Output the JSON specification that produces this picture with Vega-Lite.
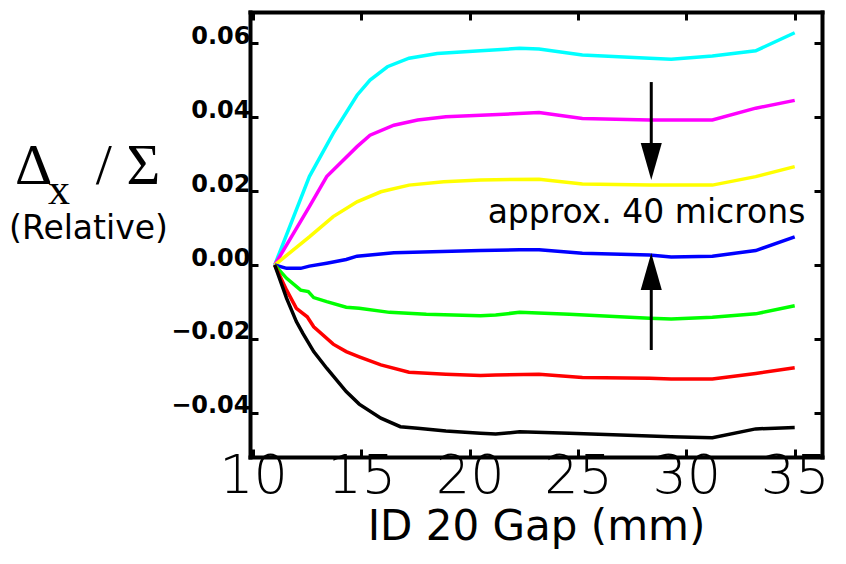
{
  "$schema": "https://vega.github.io/schema/vega-lite/v6.json",
  "width": 572,
  "height": 445,
  "autosize": "none",
  "padding": {"left": 250, "top": 12, "right": 24, "bottom": 107},
  "background": "white",
  "config": {"view": {"stroke": null}, "axis": {"grid": false}},
  "title": {
    "text": "Δ\u00a0\u00a0\u00a0/ Σ",
    "subtitle": "\u200b\u00a0\u00a0\u00a0x",
    "anchor": "start",
    "frame": "group",
    "orient": "top",
    "font": "Liberation Serif",
    "fontSize": 58,
    "fontWeight": "normal",
    "color": "black",
    "subtitleFont": "Liberation Serif",
    "subtitleFontSize": 44,
    "subtitleColor": "black",
    "subtitlePadding": -38,
    "dx": -235,
    "dy": 248,
    "offset": 0,
    "align": "left",
    "baseline": "alphabetic"
  },
  "datasets": {
    "curves": [
      {"s":"cyan","g":11,"v":0},{"s":"cyan","g":12.6,"v":0.0239},{"s":"cyan","g":13.7,"v":0.0356},{"s":"cyan","g":14.8,"v":0.0459},{"s":"cyan","g":15.4,"v":0.05},{"s":"cyan","g":16.2,"v":0.0536},{"s":"cyan","g":17.2,"v":0.0559},{"s":"cyan","g":18.5,"v":0.0572},{"s":"cyan","g":20.5,"v":0.0579},{"s":"cyan","g":22.3,"v":0.0586},{"s":"cyan","g":23.2,"v":0.0584},{"s":"cyan","g":25.2,"v":0.0568},{"s":"cyan","g":28.3,"v":0.0559},{"s":"cyan","g":29.3,"v":0.0556},{"s":"cyan","g":31.2,"v":0.0565},{"s":"cyan","g":33.2,"v":0.0579},{"s":"cyan","g":35,"v":0.0628},
      {"s":"magenta","g":11,"v":0},{"s":"magenta","g":12.6,"v":0.0158},{"s":"magenta","g":13.4,"v":0.0239},{"s":"magenta","g":14.8,"v":0.032},{"s":"magenta","g":15.4,"v":0.0351},{"s":"magenta","g":16.5,"v":0.0378},{"s":"magenta","g":17.6,"v":0.0392},{"s":"magenta","g":18.9,"v":0.0401},{"s":"magenta","g":20.5,"v":0.0405},{"s":"magenta","g":23.2,"v":0.0412},{"s":"magenta","g":25.2,"v":0.0396},{"s":"magenta","g":28.3,"v":0.0392},{"s":"magenta","g":31.2,"v":0.0392},{"s":"magenta","g":33.2,"v":0.0424},{"s":"magenta","g":35,"v":0.0445},
      {"s":"yellow","g":11,"v":0},{"s":"yellow","g":12.6,"v":0.0076},{"s":"yellow","g":13.7,"v":0.0131},{"s":"yellow","g":14.8,"v":0.0171},{"s":"yellow","g":15.9,"v":0.0198},{"s":"yellow","g":17.2,"v":0.0216},{"s":"yellow","g":18.8,"v":0.0225},{"s":"yellow","g":20.5,"v":0.023},{"s":"yellow","g":23.2,"v":0.0232},{"s":"yellow","g":25.2,"v":0.0219},{"s":"yellow","g":28.3,"v":0.0216},{"s":"yellow","g":31.2,"v":0.0216},{"s":"yellow","g":33.2,"v":0.0239},{"s":"yellow","g":35,"v":0.0266},
      {"s":"blue","g":11,"v":0},{"s":"blue","g":11.55,"v":-0.0009},{"s":"blue","g":12.2,"v":-0.0009},{"s":"blue","g":12.6,"v":-0.0003},{"s":"blue","g":13.4,"v":0.0005},{"s":"blue","g":14.3,"v":0.0015},{"s":"blue","g":14.8,"v":0.0024},{"s":"blue","g":16.5,"v":0.0033},{"s":"blue","g":20.5,"v":0.0039},{"s":"blue","g":22.3,"v":0.0041},{"s":"blue","g":23.2,"v":0.0041},{"s":"blue","g":25.2,"v":0.0032},{"s":"blue","g":28.3,"v":0.0027},{"s":"blue","g":29.3,"v":0.0022},{"s":"blue","g":31.2,"v":0.0024},{"s":"blue","g":33.2,"v":0.0039},{"s":"blue","g":35,"v":0.0076},
      {"s":"green","g":11,"v":0},{"s":"green","g":11.55,"v":-0.0036},{"s":"green","g":12.2,"v":-0.0068},{"s":"green","g":12.55,"v":-0.0072},{"s":"green","g":12.8,"v":-0.0088},{"s":"green","g":13.4,"v":-0.0099},{"s":"green","g":14.3,"v":-0.0114},{"s":"green","g":14.9,"v":-0.0117},{"s":"green","g":16.3,"v":-0.0128},{"s":"green","g":18.0,"v":-0.0133},{"s":"green","g":20.5,"v":-0.0137},{"s":"green","g":21.2,"v":-0.0135},{"s":"green","g":22.3,"v":-0.0128},{"s":"green","g":24.6,"v":-0.0133},{"s":"green","g":28.3,"v":-0.0144},{"s":"green","g":29.3,"v":-0.0146},{"s":"green","g":31.2,"v":-0.0141},{"s":"green","g":33.2,"v":-0.0132},{"s":"green","g":35,"v":-0.011},
      {"s":"red","g":11,"v":0},{"s":"red","g":11.55,"v":-0.0068},{"s":"red","g":12.0,"v":-0.0117},{"s":"red","g":12.5,"v":-0.014},{"s":"red","g":12.8,"v":-0.0167},{"s":"red","g":13.7,"v":-0.0214},{"s":"red","g":14.3,"v":-0.0234},{"s":"red","g":14.9,"v":-0.0248},{"s":"red","g":15.9,"v":-0.027},{"s":"red","g":17.2,"v":-0.029},{"s":"red","g":18.9,"v":-0.0295},{"s":"red","g":20.5,"v":-0.0299},{"s":"red","g":21.2,"v":-0.0297},{"s":"red","g":23.2,"v":-0.0295},{"s":"red","g":25.2,"v":-0.0304},{"s":"red","g":28.3,"v":-0.0306},{"s":"red","g":29.3,"v":-0.0308},{"s":"red","g":31.2,"v":-0.0308},{"s":"red","g":33.2,"v":-0.0293},{"s":"red","g":35,"v":-0.0278},
      {"s":"black","g":11,"v":0},{"s":"black","g":11.55,"v":-0.009},{"s":"black","g":12.0,"v":-0.0153},{"s":"black","g":12.3,"v":-0.0185},{"s":"black","g":12.8,"v":-0.0234},{"s":"black","g":13.4,"v":-0.0279},{"s":"black","g":14.3,"v":-0.0342},{"s":"black","g":14.9,"v":-0.0376},{"s":"black","g":15.9,"v":-0.0414},{"s":"black","g":16.8,"v":-0.0437},{"s":"black","g":17.6,"v":-0.0441},{"s":"black","g":18.9,"v":-0.0449},{"s":"black","g":20.5,"v":-0.0455},{"s":"black","g":21.2,"v":-0.0457},{"s":"black","g":22.3,"v":-0.0451},{"s":"black","g":24.6,"v":-0.0455},{"s":"black","g":28.3,"v":-0.0462},{"s":"black","g":29.3,"v":-0.0464},{"s":"black","g":31.2,"v":-0.0467},{"s":"black","g":33.2,"v":-0.0443},{"s":"black","g":35,"v":-0.0439}
    ],
    "shafts": [
      {"g": 28.38, "y1": 0.04946, "y2": 0.031},
      {"g": 28.38, "y1": -0.005, "y2": -0.02297}
    ],
    "heads": [
      {"g": 28.38, "v": 0.02797, "dir": "down"},
      {"g": 28.38, "v": -0.00176, "dir": "up"}
    ],
    "notes": [
      {"g": 28.16, "v": 0.01135, "label": "approx. 40 microns"}
    ]
  },
  "layer": [
    {
      "data": {"name": "curves"},
      "mark": {"type": "line", "strokeWidth": 3.5, "clip": true},
      "encoding": {
        "x": {
          "field": "g", "type": "quantitative",
          "scale": {"domain": [9.86, 36.26], "nice": false, "zero": false},
          "axis": {
            "orient": "bottom", "values": [10, 15, 20, 25, 30, 35], "format": "d",
            "domainColor": "black", "domainWidth": 4, "domainCap": "square",
            "tickColor": "black", "tickWidth": 3, "tickSize": -8,
            "labelFont": "DejaVu Sans", "labelFontWeight": 200, "labelFontSize": 54,
            "labelColor": "black", "labelPadding": 0, "labelFlush": false, "labelOverlap": false,
            "title": "ID 20 Gap (mm)", "titleFont": "DejaVu Sans", "titleFontSize": 42,
            "titleFontWeight": "normal", "titleColor": "black", "titlePadding": 3
          }
        },
        "y": {
          "field": "v", "type": "quantitative",
          "scale": {"domain": [-0.0519, 0.0684], "nice": false, "zero": false},
          "axis": {
            "orient": "left", "values": [-0.04, -0.02, 0, 0.02, 0.04, 0.06], "format": ".2f",
            "domainColor": "black", "domainWidth": 4, "domainCap": "square",
            "tickColor": "black", "tickWidth": 3, "tickSize": -8,
            "labelFont": "DejaVu Sans", "labelFontWeight": "bold", "labelFontSize": 24,
            "labelColor": "black", "labelPadding": 8, "labelOffset": -7, "labelFlush": false, "labelOverlap": false,
            "title": "(Relative)", "titleAngle": 0, "titleFont": "DejaVu Sans", "titleFontSize": 33,
            "titleFontWeight": "normal", "titleColor": "black", "titleAlign": "center",
            "titleBaseline": "alphabetic", "titleX": -162, "titleY": 226
          }
        },
        "color": {
          "field": "s", "type": "nominal",
          "scale": {
            "domain": ["cyan", "magenta", "yellow", "blue", "green", "red", "black"],
            "range": ["#00FFFF", "#FF00FF", "#FFFF00", "#0000FF", "#00FF00", "#FF0000", "#000000"]
          },
          "legend": null
        }
      }
    },
    {
      "data": {"name": "shafts"},
      "mark": {"type": "rule", "strokeWidth": 3, "color": "black"},
      "encoding": {
        "x": {
          "field": "g", "type": "quantitative",
          "axis": {
            "orient": "top", "values": [10, 15, 20, 25, 30, 35], "labels": false,
            "domainColor": "black", "domainWidth": 4, "domainCap": "square",
            "tickColor": "black", "tickWidth": 3, "tickSize": -8, "title": null
          }
        },
        "y": {
          "field": "y1", "type": "quantitative",
          "axis": {
            "orient": "right", "values": [-0.04, -0.02, 0, 0.02, 0.04, 0.06], "labels": false,
            "domainColor": "black", "domainWidth": 4, "domainCap": "square",
            "tickColor": "black", "tickWidth": 3, "tickSize": -8, "title": null
          }
        },
        "y2": {"field": "y2"}
      }
    },
    {
      "data": {"name": "heads"},
      "mark": {"type": "point", "filled": true, "color": "black", "opacity": 1, "size": 1369, "strokeWidth": 0},
      "encoding": {
        "x": {"field": "g", "type": "quantitative", "axis": null},
        "y": {"field": "v", "type": "quantitative", "axis": null},
        "shape": {
          "field": "dir", "type": "nominal",
          "scale": {"domain": ["down", "up"], "range": ["M-0.57,-1L0.57,-1L0,1Z", "M-0.57,1L0.57,1L0,-1Z"]},
          "legend": null
        }
      }
    },
    {
      "data": {"name": "notes"},
      "mark": {"type": "text", "font": "DejaVu Sans", "fontSize": 33, "color": "black", "align": "center", "baseline": "alphabetic"},
      "encoding": {
        "x": {"field": "g", "type": "quantitative", "axis": null},
        "y": {"field": "v", "type": "quantitative", "axis": null},
        "text": {"field": "label"}
      }
    }
  ],
  "resolve": {"axis": {"x": "independent", "y": "independent"}}
}
